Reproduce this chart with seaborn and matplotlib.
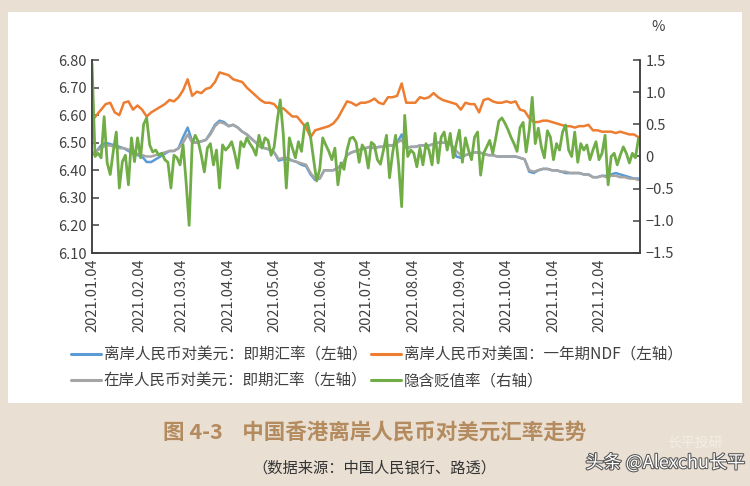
import pandas as pd
import matplotlib
matplotlib.use("Agg")
import matplotlib.pyplot as plt
import matplotlib.dates as mdates
import matplotlib.ticker as ticker
import matplotlib.patheffects as pe
from matplotlib.patches import Rectangle
from matplotlib.lines import Line2D
import seaborn as sns

# 离岸人民币对美元：即期汇率（左轴）, sampled every 3 days from 2021-01-04
cnh_spot = [
    6.455, 6.47, 6.49, 6.50, 6.495, 6.49, 6.485, 6.48, 6.47, 6.46,
    6.455, 6.45, 6.43, 6.43, 6.44, 6.45, 6.46, 6.47, 6.47, 6.48,
    6.52, 6.555, 6.505, 6.50, 6.505, 6.51, 6.535, 6.565, 6.58, 6.575,
    6.56, 6.565, 6.555, 6.54, 6.53, 6.515, 6.50, 6.485, 6.48, 6.475,
    6.465, 6.435, 6.44, 6.44, 6.435, 6.43, 6.42, 6.415, 6.385, 6.365,
    6.37, 6.40, 6.40, 6.40, 6.41, 6.42, 6.455, 6.465, 6.47, 6.475,
    6.48, 6.485, 6.48, 6.485, 6.485, 6.49, 6.49, 6.50, 6.53, 6.48,
    6.485, 6.485, 6.49, 6.49, 6.49, 6.495, 6.50, 6.50, 6.50, 6.49,
    6.45, 6.445, 6.455, 6.46, 6.465, 6.465, 6.46, 6.455, 6.455, 6.45,
    6.45, 6.45, 6.45, 6.45, 6.445, 6.44, 6.395, 6.39, 6.40, 6.405,
    6.405, 6.40, 6.40, 6.395, 6.39, 6.39, 6.39, 6.39, 6.385, 6.385,
    6.375, 6.375, 6.38, 6.38, 6.385, 6.39, 6.385, 6.38, 6.375, 6.37,
    6.37,
]

# 离岸人民币对美国：一年期NDF（左轴）
ndf_1y = [
    6.58, 6.60, 6.62, 6.64, 6.645, 6.61, 6.60, 6.645, 6.65, 6.62,
    6.635, 6.62, 6.595, 6.61, 6.62, 6.63, 6.64, 6.655, 6.65, 6.665,
    6.69, 6.73, 6.67, 6.685, 6.68, 6.695, 6.70, 6.72, 6.755, 6.75,
    6.745, 6.73, 6.725, 6.72, 6.70, 6.685, 6.67, 6.655, 6.645, 6.645,
    6.64, 6.62, 6.625, 6.61, 6.595, 6.595, 6.575, 6.555, 6.52, 6.545,
    6.55, 6.555, 6.56, 6.57, 6.59, 6.62, 6.65, 6.645, 6.635, 6.645,
    6.645, 6.65, 6.66, 6.645, 6.64, 6.665, 6.665, 6.67, 6.715, 6.645,
    6.645, 6.645, 6.665, 6.66, 6.665, 6.68, 6.665, 6.655, 6.65, 6.645,
    6.64, 6.62, 6.645, 6.64, 6.64, 6.61, 6.655, 6.66, 6.65, 6.645,
    6.645, 6.65, 6.645, 6.65, 6.62, 6.615, 6.59, 6.575, 6.575, 6.58,
    6.58, 6.575, 6.57, 6.565, 6.56, 6.56, 6.555, 6.56, 6.56, 6.565,
    6.545, 6.545, 6.54, 6.54, 6.54, 6.535, 6.54, 6.535, 6.53, 6.53,
    6.52,
]

# 在岸人民币对美元：即期汇率（左轴）
cny_spot = [
    6.46, 6.47, 6.48, 6.49, 6.49, 6.485, 6.48, 6.48, 6.475, 6.465,
    6.46, 6.455, 6.45, 6.45, 6.455, 6.46, 6.465, 6.47, 6.47, 6.48,
    6.50, 6.53, 6.50, 6.50, 6.505, 6.51, 6.53, 6.56, 6.575, 6.57,
    6.56, 6.565, 6.555, 6.54, 6.53, 6.515, 6.50, 6.485, 6.48, 6.475,
    6.465, 6.44, 6.445, 6.445, 6.435, 6.43, 6.425, 6.42, 6.39, 6.37,
    6.37, 6.40, 6.40, 6.40, 6.41, 6.42, 6.455, 6.465, 6.47, 6.475,
    6.48, 6.485, 6.48, 6.485, 6.485, 6.49, 6.49, 6.50, 6.51, 6.48,
    6.485, 6.485, 6.49, 6.49, 6.49, 6.495, 6.50, 6.50, 6.50, 6.49,
    6.47, 6.455, 6.455, 6.46, 6.465, 6.465, 6.46, 6.455, 6.455, 6.45,
    6.45, 6.45, 6.45, 6.45, 6.445, 6.44, 6.40, 6.395, 6.40, 6.405,
    6.405, 6.40, 6.40, 6.395, 6.395, 6.39, 6.39, 6.39, 6.385, 6.385,
    6.375, 6.375, 6.38, 6.375, 6.38, 6.38, 6.375, 6.375, 6.37, 6.37,
    6.365,
]

# 隐含贬值率（右轴, %）, sampled every 2 days from 2021-01-04
implied_dep = [
    1.45, 0.00, 0.05, -0.02, 0.62, -0.10, -0.28, 0.08, 0.38, -0.49, -0.08, 0.02, -0.44, 0.29, -0.08,
    0.29, -0.02, 0.50, 0.60, 0.18, 0.07, 0.10, 0.02, 0.05, -0.05, -0.09, -0.49, 0.02, -0.02, -0.13,
    0.18, -0.40, -1.07, 0.20, 0.33, 0.23, 0.02, -0.24, 0.13, 0.20, -0.13, 0.10, -0.49, 0.18, 0.10,
    0.15, 0.23, 0.05, -0.18, 0.23, 0.15, 0.29, 0.20, 0.13, 0.02, 0.33, 0.13, 0.29, 0.25, 0.02,
    0.15, 0.55, 0.88, 0.35, -0.49, 0.29, 0.13, -0.02, 0.23, 0.08, 0.47, 0.52, 0.30, -0.05, -0.38,
    -0.20, 0.29, 0.18, 0.08, -0.05, 0.13, -0.44, -0.10, -0.20, 0.10, 0.28, 0.30, 0.22, -0.09, 0.18,
    0.10, -0.18, 0.22, 0.18, -0.05, -0.12, 0.10, 0.33, -0.33, 0.05, 0.33, -0.13, -0.78, 0.64, 0.00,
    0.10, 0.05, -0.16, 0.13, -0.13, 0.20, 0.10, -0.13, 0.36, -0.10, 0.30, 0.38, 0.10, 0.36, -0.02,
    0.20, 0.41, -0.09, 0.29, 0.10, -0.05, 0.30, 0.38, -0.29, 0.05, 0.15, 0.25, 0.05, 0.29, 0.55,
    0.60, 0.52, 0.42, 0.30, 0.20, 0.08, 0.45, 0.53, 0.07, 0.40, 0.92, 0.20, 0.44, 0.15, -0.02,
    0.40, 0.30, -0.05, 0.20, 0.10, 0.38, 0.49, 0.10, 0.00, 0.38, -0.09, 0.20, 0.10, 0.18, -0.05,
    0.10, 0.23, -0.05, 0.05, 0.33, -0.44, 0.00, 0.05, -0.13, 0.02, 0.15, 0.05, -0.10, 0.05, -0.02,
    0.28,
]

labels = ["离岸人民币对美元：即期汇率（左轴）", "离岸人民币对美国：一年期NDF（左轴）",
          "在岸人民币对美元：即期汇率（左轴）", "隐含贬值率（右轴）"]
colors = ["#5b9bd5", "#ed7d31", "#a5a5a5", "#70ad47"]
left_ticks = [6.10, 6.20, 6.30, 6.40, 6.50, 6.60, 6.70, 6.80]
right_ticks = [-1.5, -1.0, -0.5, 0, 0.5, 1.0, 1.5]
tick_dates = ["2021-01-04", "2021-02-04", "2021-03-04", "2021-04-04", "2021-05-04", "2021-06-04",
              "2021-07-04", "2021-08-04", "2021-09-04", "2021-10-04", "2021-11-04", "2021-12-04"]

spot_dates = pd.date_range("2021-01-04", periods=len(cnh_spot), freq="3D")
dep_dates = pd.date_range("2021-01-04", periods=len(implied_dep), freq="2D")

sns.set_theme(style="white")
plt.rcParams["font.family"] = ["Noto Sans CJK SC", "DejaVu Sans"]
plt.rcParams["axes.unicode_minus"] = True

BG = "#e9dfd2"
TXT = "#404040"

fig = plt.figure(figsize=(7.5, 4.86), dpi=100, facecolor=BG)
fig.patches.append(Rectangle((8 / 750, 1 - 403 / 486), 734 / 750, 391 / 486,
                             transform=fig.transFigure, facecolor="white",
                             edgecolor="none", zorder=-10))

ax = fig.add_axes([92 / 750, 1 - 253 / 486, 548 / 750, 193 / 486])
ax.set_facecolor("none")

sns.lineplot(x=spot_dates, y=cnh_spot, ax=ax, color=colors[0], linewidth=1.8)
sns.lineplot(x=spot_dates, y=ndf_1y, ax=ax, color=colors[1], linewidth=1.8)
sns.lineplot(x=spot_dates, y=cny_spot, ax=ax, color=colors[2], linewidth=1.8)

ax2 = ax.twinx()
ax2.set_facecolor("none")
sns.lineplot(x=dep_dates, y=implied_dep, ax=ax2, color=colors[3], linewidth=2.0)

ax.set_xlim(pd.Timestamp("2021-01-04"), pd.Timestamp("2021-12-31"))
ax.set_ylim(6.10, 6.80)
ax.set_yticks(left_ticks)
ax.yaxis.set_major_formatter(ticker.FormatStrFormatter("%.2f"))
ax2.set_ylim(-1.5, 1.5)
ax2.set_yticks(right_ticks)
ax2.yaxis.set_major_formatter(ticker.FuncFormatter(
    lambda v, pos: "0" if abs(v) < 1e-9 else f"{v:.1f}".replace("-", "\u2212")))

ax.set_xticks(pd.to_datetime(tick_dates))
ax.xaxis.set_major_formatter(mdates.DateFormatter("%Y.%m.%d"))
ax.tick_params(axis="x", rotation=90, labelsize=10.5, colors=TXT, length=0, pad=4)
ax.tick_params(axis="y", direction="in", labelsize=10.5, colors=TXT, length=5, width=1.1, pad=4)
ax2.tick_params(axis="y", direction="in", labelsize=10.5, colors=TXT, length=5, width=1.1, pad=4)
ax.set_xlabel("")
ax.set_ylabel("")
ax2.set_ylabel("")

for a in (ax, ax2):
    a.spines["top"].set_visible(False)
    for s in ("left", "right", "bottom"):
        a.spines[s].set_color(TXT)
        a.spines[s].set_linewidth(1.1)

fig.text(658 / 750, 1 - 27 / 486, "%", ha="center", va="center", fontsize=10.5, color=TXT)

handles = [Line2D([], [], color=colors[i], linewidth=2.2) for i in (0, 2, 1, 3)]
leg_labels = [labels[i] for i in (0, 2, 1, 3)]
fig.legend(handles, leg_labels, ncol=2, loc="center left",
           bbox_to_anchor=(57 / 750, 1 - 368 / 486), frameon=False,
           fontsize=11.2, handlelength=1.9, handletextpad=0.2,
           columnspacing=0.25, labelspacing=0.6, labelcolor=TXT)

fig.text(0.5, 1 - 432 / 486, "图 4-3    中国香港离岸人民币对美元汇率走势",
         ha="center", va="center", fontsize=15.5, fontweight="bold", color="#b48b5e")
fig.text(374 / 750, 1 - 468 / 486, "（数据来源：中国人民银行、路透）",
         ha="center", va="center", fontsize=11, color="#333333")

fig.text(695 / 750, 1 - 443 / 486, "长平投研", ha="center", va="center",
         fontsize=10, color="#f4efe8", alpha=0.9)
fig.text(745 / 750, 1 - 463 / 486, "头条 @Alexchu长平", ha="right", va="center",
         fontsize=13, color="white",
         path_effects=[pe.withStroke(linewidth=1.5, foreground="#555555")])

fig.savefig("out.png", dpi=100, facecolor=fig.get_facecolor())
